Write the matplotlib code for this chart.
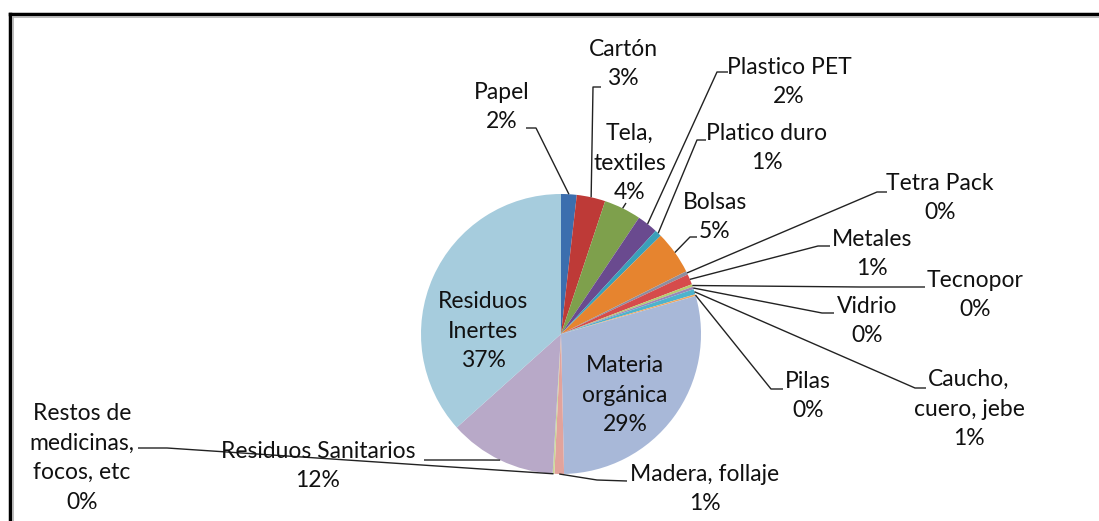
import matplotlib
matplotlib.use("Agg")
import matplotlib.pyplot as plt
from matplotlib.lines import Line2D
import numpy as np

# ---- data ----
categories = ["Papel", "Cartón", "Tela,\ntextiles", "Plastico PET", "Platico duro",
              "Bolsas", "Tetra Pack", "Metales", "Tecnopor", "Vidrio",
              "Caucho,\ncuero, jebe", "Pilas", "Materia\norgánica", "Madera, follaje",
              "Restos de\nmedicinas,\nfocos, etc", "Residuos Sanitarios", "Residuos\nInertes"]
values = [1.8, 3.3, 4.3, 2.4, 0.8, 5.0, 0.4, 1.2, 0.3, 0.3, 0.6, 0.2,
          29.0, 1.1, 0.2, 12.4, 36.6]
colors = ["#3C6EAE", "#BE3A37", "#7EA04C", "#6A4A8F", "#3AA0BA", "#E6842F",
          "#8E8E9E", "#D64B4B", "#B6CC6E", "#9B86B8", "#4DB3CD", "#F0A860",
          "#A8B8D8", "#E2A39C", "#C8D896", "#B8A9C8", "#A6CCDD"]

W, H = 1099, 521
fig = plt.figure(figsize=(W / 100, H / 100), dpi=100)
ax = fig.add_axes([0, 0, 1, 1])
ax.set_xlim(0, W)
ax.set_ylim(0, H)
ax.set_aspect("equal")
ax.axis("off")

def Y(y):
    return H - y

cx, cy, R = 561, 334, 140
wedges, _ = ax.pie(values, colors=colors, startangle=90, counterclock=False,
                   center=(cx, Y(cy)), radius=R, frame=True)
ax.set_xlim(0, W)
ax.set_ylim(0, H)
ax.axis("off")

FONT = "Lato"
FS = 16.5
TXT = "#111111"

total = sum(values)
labels = [f"{c}\n{round(v / total * 100):.0f}%" for c, v in zip(categories, values)]

# label block centres (image px) and leader paths (elbow, anchor); None = inside
label_pos = [(502, 107), (623, 64), (630, 163), (789, 82), (767, 148),
             (715, 217), (940, 198), (872, 254), (975, 295), (867, 321),
             (969, 409), (808, 396), (625, 395), (705, 489), (82, 458),
             (318, 466), (483, 331)]
leaders = [[(536, 128), (526, 128)], [(593, 87), (601, 87)], [(626, 203)],
           [(717, 72), (728, 72)], [(697, 140), (706, 140)], [(690, 237), (697, 237)],
           [(877, 192), (887, 192)], [(818, 246), (830, 246)], [(860, 287), (925, 287)],
           [(822, 313), (834, 313)], [(915, 388), (926, 388)], [(771, 389), (783, 389)],
           None, [(597, 480), (627, 481)], [(167, 448), (138, 448)],
           [(482, 460), (424, 460)], None]

for w, lab, pos, lead in zip(wedges, labels, label_pos, leaders):
    ax.text(pos[0], Y(pos[1]), lab, ha="center", va="center", fontsize=FS,
            family=FONT, color=TXT, linespacing=1.5)
    if lead is None:
        continue
    mid = np.deg2rad((w.theta1 + w.theta2) / 2)
    ex, ey = cx + R * np.cos(mid), Y(cy) + R * np.sin(mid)
    xs = [ex] + [p[0] for p in lead]
    ys = [ey] + [Y(p[1]) for p in lead]
    ax.plot(xs, ys, color="#222222", lw=1.0, solid_capstyle="butt")

# frame (cropped chart border)
fig.add_artist(Line2D([10 / W, 1], [1 - 14 / H, 1 - 14 / H], color="black", lw=2.5,
                      transform=fig.transFigure))
fig.add_artist(Line2D([10 / W, 10 / W], [0, 1 - 14 / H], color="black", lw=2.5,
                      transform=fig.transFigure))
fig.add_artist(Line2D([12.5 / W, 1], [1 - 16.5 / H, 1 - 16.5 / H], color="#b0b0b0", lw=1.2,
                      transform=fig.transFigure))
fig.add_artist(Line2D([12.5 / W, 12.5 / W], [0, 1 - 16.5 / H], color="#b0b0b0", lw=1.2,
                      transform=fig.transFigure))

fig.savefig("out.png", dpi=100, facecolor="white")
